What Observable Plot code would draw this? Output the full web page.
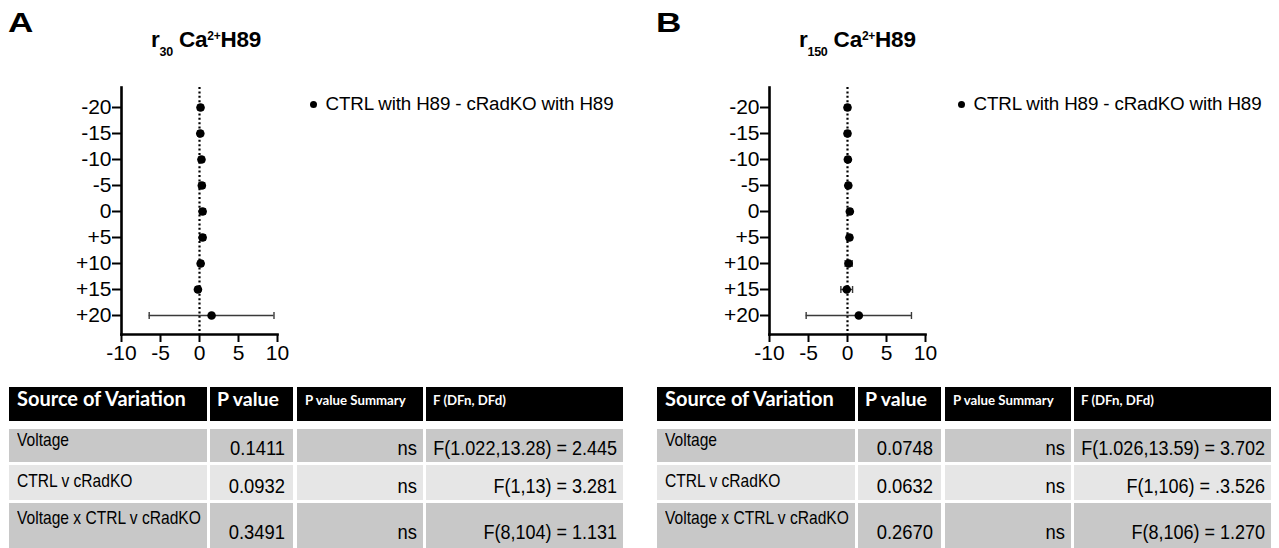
<!DOCTYPE html>
<html><head><meta charset="utf-8">
<script src="https://cdn.jsdelivr.net/npm/d3@7"></script>
<script src="https://cdn.jsdelivr.net/npm/@observablehq/plot@0.6"></script>
<style>
body{margin:0;background:#fff;}
#root{position:relative;width:1279px;height:548px;overflow:hidden;font-family:"Liberation Sans",Arial,sans-serif;color:#000;}
.panel{position:absolute;top:0;width:631px;height:548px;}
.t{position:absolute;white-space:nowrap;}
.cell{position:absolute;}
svg{position:absolute;left:0;top:0;}
</style></head><body><div id="root"></div>
<script>
// ---- data ----
const voltages = ["-20","-15","-10","-5","0","+5","+10","+15","+20"];
const meanA = [0.13, 0.1, 0.25, 0.3, 0.4, 0.4, 0.15, -0.2, 1.55];
const errA  = [0.3, 0.3, 0.3, 0.35, 0.35, 0.35, 0.3, 0.3, 8.0];
const meanB = [0.0, 0.0, 0.05, 0.1, 0.3, 0.25, 0.15, -0.1, 1.45];
const errB  = [0.3, 0.3, 0.3, 0.3, 0.3, 0.3, 0.45, 0.75, 6.75];
const xTicks = [-10, -5, 0, 5, 10];
const legendLabel = "CTRL with H89 - cRadKO with H89";
const panelLetters = ["A", "B"];
const titleSubs = ["30", "150"];
const tableHeaders = ["Source of Variation", "P value", "P value Summary", "F (DFn, DFd)"];
const sources = ["Voltage", "CTRL v cRadKO", "Voltage x CTRL v cRadKO"];
const pA = ["0.1411", "0.0932", "0.3491"];
const pB = ["0.0748", "0.0632", "0.2670"];
const summaryA = ["ns", "ns", "ns"];
const summaryB = ["ns", "ns", "ns"];
const fA = ["F(1.022,13.28) = 2.445", "F(1,13) = 3.281", "F(8,104) = 1.131"];
const fB = ["F(1.026,13.59) = 3.702", "F(1,106) = .3.526", "F(8,106) = 1.270"];

const panels = [
  {letter: panelLetters[0], sub: titleSubs[0], mean: meanA, err: errA, p: pA, s: summaryA, f: fA, left: 0},
  {letter: panelLetters[1], sub: titleSubs[1], mean: meanB, err: errB, p: pB, s: summaryB, f: fB, left: 648}
];

// ---- helpers ----
const ARIAL = '"Liberation Sans",Arial,sans-serif';
const LATO = 'Lato,"Open Sans",sans-serif';
function txt(parent, str, o) {
  const d = document.createElement("div");
  d.className = "t";
  d.textContent = str;
  const fs = o.fs;
  const k = o.family === LATO ? 0.887 : 0.8465;
  d.style.fontFamily = o.family || ARIAL;
  d.style.fontSize = fs + "px";
  d.style.lineHeight = fs + "px";
  d.style.fontWeight = o.weight || "normal";
  d.style.color = o.color || "#000";
  if (o.ls) d.style.letterSpacing = o.ls + "px";
  d.style.top = (o.baseline - k * fs) + "px";
  const sx = o.sx || 1;
  if (o.right !== undefined) {
    d.style.left = (o.right - 600) + "px";
    d.style.width = "600px";
    d.style.textAlign = "right";
    d.style.transformOrigin = "100% 50%";
  } else {
    d.style.left = o.left + "px";
    d.style.transformOrigin = "0% 50%";
  }
  if (sx !== 1) d.style.transform = `scaleX(${sx})`;
  parent.appendChild(d);
  return d;
}

const capSymbol = {draw(ctx) { ctx.moveTo(0, -3.5); ctx.lineTo(0, 3.5); }};

function chart(mean, err) {
  const data = voltages.map((v, i) => ({v, m: mean[i], lo: mean[i] - err[i], hi: mean[i] + err[i]}));
  return Plot.plot({
    width: 300, height: 375,
    marginLeft: 121, marginTop: 87, marginBottom: 41, marginRight: 23,
    style: {fontFamily: ARIAL, fontSize: "21px", color: "#000", background: "transparent", overflow: "visible"},
    x: {domain: [-10, 10]},
    y: {type: "point", domain: voltages, padding: 0.68},
    marks: [
      Plot.ruleX([0], {stroke: "#000", strokeWidth: 2.2, strokeDasharray: "2,2.4"}),
      Plot.ruleY(data, {y: "v", x1: "lo", x2: "hi", stroke: "#3a3a3a", strokeWidth: 1.4}),
      Plot.dot(data, {x: "lo", y: "v", symbol: capSymbol, stroke: "#3a3a3a", fill: "none", strokeWidth: 1.4}),
      Plot.dot(data, {x: "hi", y: "v", symbol: capSymbol, stroke: "#3a3a3a", fill: "none", strokeWidth: 1.4}),
      Plot.dot(data, {x: "m", y: "v", r: 4.3, fill: "#000"}),
      Plot.axisY({tickSize: 9, tickPadding: 1, fontSize: 21, label: null, strokeWidth: 2}),
      Plot.axisX({ticks: xTicks, tickFormat: d => String(d), tickSize: 8, tickPadding: 3, fontSize: 21, label: null, strokeWidth: 2}),
      Plot.frame({anchor: "left", strokeWidth: 2.6}),
      Plot.frame({anchor: "bottom", strokeWidth: 2.6})
    ]
  });
}

// ---- table layout ----
const colLeft = [9, 210, 297, 426];
const colW = [198, 83, 126, 197];
const rowTop = [387, 429, 465, 503];
const rowH = [34, 33, 35, 45];
const rowFill = ["#000", "#c8c8c8", "#e6e6e6", "#c8c8c8"];
const labelBase = [445.7, 487, 524];
const valueBase = [455.3, 493, 539];

const root = document.getElementById("root");
for (const P of panels) {
  const pn = document.createElement("div");
  pn.className = "panel";
  pn.style.left = P.left + "px";
  root.appendChild(pn);

  // plot
  pn.appendChild(chart(P.mean, P.err));

  // panel letter
  txt(pn, P.letter, {left: 8, baseline: 33, fs: 27, weight: "900", sx: 1.3});

  // title
  const t = document.createElement("div");
  t.className = "t";
  t.style.left = "151px";
  t.style.top = (48 - 0.8465 * 22.5) + "px";
  t.style.fontFamily = ARIAL;
  t.style.fontSize = "22.5px";
  t.style.lineHeight = "22.5px";
  t.style.fontWeight = "bold";
  t.style.letterSpacing = "-0.2px";
  t.innerHTML = `r<span style="font-size:12.5px;position:relative;top:9px;letter-spacing:-0.3px">${P.sub}</span> Ca<span style="font-size:12px;position:relative;top:-7px;letter-spacing:-0.3px">2+</span>H89`;
  pn.appendChild(t);

  // legend
  const b = document.createElement("div");
  b.style.cssText = "position:absolute;left:309.5px;top:100.5px;width:7px;height:7px;border-radius:50%;background:#000;";
  pn.appendChild(b);
  txt(pn, legendLabel, {left: 325.5, baseline: 110.5, fs: 18.8, ls: -0.15});

  // table backgrounds
  for (let r = 0; r < 4; r++) {
    for (let c = 0; c < 4; c++) {
      const d = document.createElement("div");
      d.className = "cell";
      d.style.left = colLeft[c] + "px";
      d.style.top = rowTop[r] + "px";
      d.style.width = colW[c] + "px";
      d.style.height = rowH[r] + "px";
      d.style.background = rowFill[r];
      pn.appendChild(d);
    }
  }
  // header text
  txt(pn, tableHeaders[0], {left: 17, baseline: 406, fs: 20, family: LATO, weight: "bold", color: "#fff"});
  txt(pn, tableHeaders[1], {left: 217, baseline: 406, fs: 19.5, family: LATO, weight: "bold", color: "#fff"});
  txt(pn, tableHeaders[2], {left: 305, baseline: 406, fs: 13.5, family: LATO, weight: "bold", color: "#fff", sx: 0.98});
  txt(pn, tableHeaders[3], {left: 433, baseline: 406, fs: 13.5, family: LATO, weight: "bold", color: "#fff", sx: 0.98});
  // body text
  for (let r = 0; r < 3; r++) {
    txt(pn, sources[r], {left: 17, baseline: labelBase[r], fs: 19, sx: 0.82});
    txt(pn, P.p[r], {right: 285, baseline: valueBase[r], fs: 20, sx: 0.92});
    txt(pn, P.s[r], {right: 417, baseline: valueBase[r], fs: 20, sx: 0.92});
    txt(pn, P.f[r], {right: 617, baseline: valueBase[r], fs: 20, sx: 0.9});
  }
}
</script></body></html>
